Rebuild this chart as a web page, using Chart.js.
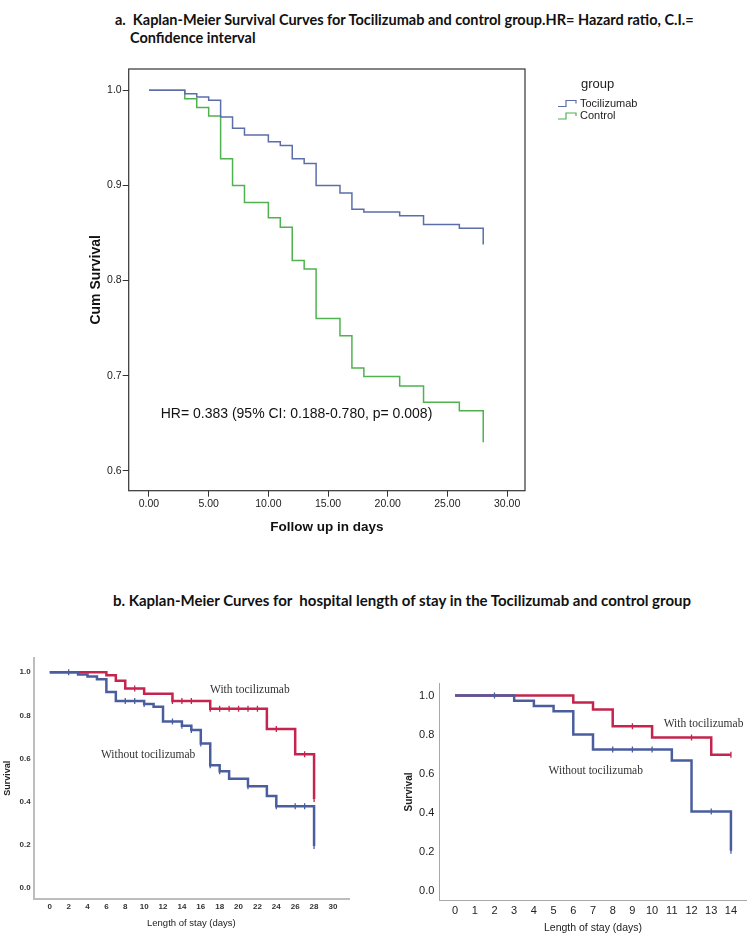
<!DOCTYPE html>
<html>
<head>
<meta charset="utf-8">
<script src="https://cdn.jsdelivr.net/npm/chart.js@4.4.0/dist/chart.umd.min.js"></script>
<style>
    body { margin: 0; background: #fff; }
    #page { position: relative; width: 752px; height: 938px; overflow: hidden; background: #fff; }
    .title { position: absolute; font-family: Lato, 'Open Sans', sans-serif; font-weight: bold; font-size: 14.5px; color: #111; white-space: nowrap; }
    .box { position: absolute; }
</style>
</head>
<body>
<div id="page">
    <div class="title" style="left:115px; top:11px;">a.&nbsp; Kaplan-Meier Survival Curves for Tocilizumab and control group.HR= Hazard ratio, C.I.=</div>
    <div class="title" style="left:130px; top:29px;">Confidence interval</div>
    <div class="title" style="left:113px; top:591px; font-size:15px;">b. Kaplan-Meier Curves for&nbsp; hospital length of stay in the Tocilizumab and control group</div>

    <div class="box" style="left:0; top:60px;"><canvas id="chart-a" width="752" height="480"></canvas></div>
    <div class="box" style="left:0; top:640px;"><canvas id="chart-b" width="380" height="298"></canvas></div>
    <div class="box" style="left:380px; top:660px;"><canvas id="chart-c" width="372" height="278"></canvas></div>
</div>

<script>
// a. survival, follow up in days
const topXTicks = [0, 5, 10, 15, 20, 25, 30]
const topYTicks = [0.6, 0.7, 0.8, 0.9, 1.0]
const topTociDays = [0, 3, 4, 5, 6, 7, 8, 10, 11, 12, 13, 14, 16, 17, 18, 21, 23, 26, 28]
const topTociSurv = [1.0, 0.9965, 0.993, 0.9895, 0.972, 0.960, 0.953, 0.946, 0.942, 0.928, 0.923, 0.900, 0.892, 0.875, 0.872, 0.868, 0.859, 0.855, 0.838]
const topCtrlDays = [0, 3, 4, 5, 6, 7, 8, 10, 11, 12, 13, 14, 16, 17, 18, 21, 23, 26, 28]
const topCtrlSurv = [1.0, 0.991, 0.982, 0.973, 0.928, 0.900, 0.882, 0.866, 0.856, 0.821, 0.812, 0.760, 0.742, 0.708, 0.699, 0.689, 0.672, 0.663, 0.630]

// b. left, length of stay 0-28
const leftXTicks = [0, 2, 4, 6, 8, 10, 12, 14, 16, 18, 20, 22, 24, 26, 28, 30]
const survTicks = [0, 0.2, 0.4, 0.6, 0.8, 1.0]
const leftWithoutDays = [0, 3, 4, 5, 6, 7, 10, 11, 12, 14, 15, 16, 17, 18, 19, 21, 23, 24, 28]
const leftWithoutSurv = [1.0, 0.990, 0.980, 0.967, 0.908, 0.867, 0.853, 0.840, 0.771, 0.752, 0.732, 0.669, 0.568, 0.540, 0.506, 0.471, 0.426, 0.378, 0.194]
const leftWithoutCensorDays = [2, 8, 9, 10, 13, 14, 15, 16, 17, 18, 21, 24, 26, 27, 28]
const leftWithoutCensorSurv = [1.0, 0.867, 0.867, 0.853, 0.771, 0.752, 0.732, 0.669, 0.568, 0.540, 0.471, 0.378, 0.378, 0.378, 0.194]
const leftWithDays = [0, 6, 7, 8, 10, 13, 17, 23, 26, 28]
const leftWithSurv = [1.0, 0.986, 0.960, 0.925, 0.900, 0.867, 0.830, 0.737, 0.619, 0.412]
const leftWithCensorDays = [9, 13, 14, 15, 17, 18, 19, 20, 21, 22, 24, 27, 28]
const leftWithCensorSurv = [0.925, 0.867, 0.867, 0.867, 0.830, 0.830, 0.830, 0.830, 0.830, 0.830, 0.737, 0.619, 0.412]

// b. right, length of stay 0-14
const rightXTicks = [0, 1, 2, 3, 4, 5, 6, 7, 8, 9, 10, 11, 12, 13, 14]
const rightWithoutDays = [0, 3, 4, 5, 6, 7, 11, 12, 14]
const rightWithoutSurv = [1.0, 0.973, 0.947, 0.919, 0.801, 0.724, 0.668, 0.406, 0.206]
const rightWithoutCensorDays = [2, 8, 9, 10, 13, 14]
const rightWithoutCensorSurv = [1.0, 0.724, 0.724, 0.724, 0.406, 0.206]
const rightWithDays = [0, 6, 7, 8, 10, 13, 14]
const rightWithSurv = [1.0, 0.964, 0.928, 0.843, 0.785, 0.697, 0.697]
const rightWithCensorDays = [9, 12, 14]
const rightWithCensorSurv = [0.843, 0.785, 0.697]

const SANS = "'Liberation Sans', Arial, sans-serif"
const SERIF = "'Liberation Serif', 'Times New Roman', serif"
const BLUE = '#4a5e9e'
const RED = '#c4244e'

function points(xs, ys) {
    return xs.map((x, i) => ({ x: x, y: ys[i] }))
}

// survival curve: stays flat until the next day, then drops
function stepLine(xs, ys, color, width) {
    return {
        data: points(xs, ys),
        stepped: 'before',
        borderColor: color,
        borderWidth: width,
        pointRadius: 0,
        fill: false
    }
}

function censorMarks(xs, ys, color) {
    return {
        data: points(xs, ys),
        showLine: false,
        pointStyle: 'line',
        rotation: 90,
        pointRadius: 3,
        pointBorderColor: color,
        pointBorderWidth: 1.3,
        pointBackgroundColor: color
    }
}

// text written at data positions
const notesPlugin = {
    id: 'notes',
    afterDatasetsDraw(chart, args, opts) {
        const ctx = chart.ctx
        ;(opts.items || []).forEach(n => {
            ctx.save()
            ctx.font = n.font
            ctx.fillStyle = n.color || '#222'
            ctx.textAlign = n.align || 'center'
            ctx.textBaseline = 'middle'
            ctx.fillText(n.text, chart.scales.x.getPixelForValue(n.x), chart.scales.y.getPixelForValue(n.y))
            ctx.restore()
        })
    }
}

// box round the plot (SPSS style)
const framePlugin = {
    id: 'frame',
    afterDraw(chart) {
        const a = chart.chartArea
        const ctx = chart.ctx
        ctx.save()
        ctx.strokeStyle = '#333'
        ctx.lineWidth = 1.2
        ctx.strokeRect(a.left, a.top, a.right - a.left, a.bottom - a.top)
        ctx.restore()
    }
}

// "group" legend with step shaped keys
const groupLegendPlugin = {
    id: 'groupLegend',
    afterDraw(chart) {
        const ctx = chart.ctx
        ctx.save()
        ctx.fillStyle = '#222'
        ctx.textBaseline = 'middle'
        ctx.font = '13px ' + SANS
        ctx.fillText('group', 581, 24)
        ctx.font = '11px ' + SANS
        chart.data.datasets.forEach((ds, i) => {
            const y = 43.5 + i * 12.5
            ctx.strokeStyle = ds.borderColor
            ctx.lineWidth = 1.2
            ctx.beginPath()
            ctx.moveTo(558, y + 3)
            ctx.lineTo(566, y + 3)
            ctx.lineTo(566, y - 3)
            ctx.lineTo(576, y - 3)
            ctx.lineTo(576, y)
            ctx.stroke()
            ctx.fillText(ds.label, 580, y)
        })
        ctx.restore()
    }
}

function fixedTicks(list) {
    return s => { s.ticks = list.map(v => ({ value: v })) }
}

document.addEventListener('DOMContentLoaded', function () {
    Chart.defaults.font.family = SANS
    Chart.defaults.color = '#222'

    const ctxA = document.getElementById('chart-a').getContext('2d')
    const chartA = new Chart(ctxA, {
        type: 'line',
        data: {
            datasets: [
                Object.assign({ label: 'Tocilizumab' }, stepLine(topTociDays, topTociSurv, '#5b6ea9', 1.5)),
                Object.assign({ label: 'Control' }, stepLine(topCtrlDays, topCtrlSurv, '#4fb24f', 1.5))
            ]
        },
        options: {
            responsive: false,
            animation: false,
            layout: { padding: { left: 0, top: 9, right: 227, bottom: 0 } },
            plugins: {
                legend: { display: false },
                tooltip: { enabled: false },
                notes: {
                    items: [
                        { text: 'HR= 0.383 (95% CI: 0.188-0.780, p= 0.008)', x: 0.98, y: 0.6597, align: 'left', font: '14px ' + SANS, color: '#111' }
                    ]
                }
            },
            scales: {
                x: {
                    type: 'linear',
                    min: -1.7,
                    max: 31.5,
                    afterBuildTicks: fixedTicks(topXTicks),
                    afterFit: s => { s.height = 49.3 },
                    grid: { display: true, drawOnChartArea: false, drawTicks: true, tickLength: 6, color: '#333' },
                    border: { display: false },
                    ticks: { padding: 1, font: { size: 10.5 }, callback: v => v.toFixed(2) },
                    title: { display: true, text: 'Follow up in days', font: { size: 13.5, weight: 'bold' }, color: '#111', padding: { top: 0, bottom: 4.3 } }
                },
                y: {
                    type: 'linear',
                    min: 0.579,
                    max: 1.0224,
                    afterBuildTicks: fixedTicks(topYTicks),
                    afterFit: s => { s.width = 128.7 },
                    grid: { display: true, drawOnChartArea: false, drawTicks: true, tickLength: 6, color: '#333' },
                    border: { display: false },
                    ticks: { padding: 1, font: { size: 10.5 }, callback: v => v.toFixed(1) },
                    title: { display: true, text: 'Cum Survival', font: { size: 14, weight: 'bold' }, color: '#111', padding: { top: 88, bottom: 0 } }
                }
            }
        },
        plugins: [notesPlugin, framePlugin, groupLegendPlugin]
    })

    const ctxB = document.getElementById('chart-b').getContext('2d')
    const chartB = new Chart(ctxB, {
        type: 'line',
        data: {
            datasets: [
                stepLine(leftWithoutDays, leftWithoutSurv, BLUE, 2.5),
                censorMarks(leftWithoutCensorDays, leftWithoutCensorSurv, BLUE),
                stepLine(leftWithDays, leftWithSurv, RED, 2.5),
                censorMarks(leftWithCensorDays, leftWithCensorSurv, RED)
            ]
        },
        options: {
            responsive: false,
            animation: false,
            layout: { padding: { left: 0, top: 18, right: 31, bottom: 0 } },
            plugins: {
                legend: { display: false },
                tooltip: { enabled: false },
                notes: {
                    items: [
                        { text: 'With tocilizumab', x: 21.2, y: 0.917, font: '11.5px ' + SERIF, color: '#333' },
                        { text: 'Without tocilizumab', x: 10.42, y: 0.616, font: '11.5px ' + SERIF, color: '#333' }
                    ]
                }
            },
            scales: {
                x: {
                    type: 'linear',
                    min: -1.7,
                    max: 31.7,
                    afterBuildTicks: fixedTicks(leftXTicks),
                    afterFit: s => { s.height = 39.3 },
                    grid: { display: false, drawTicks: false },
                    border: { display: true, color: '#bdbdbd', width: 2 },
                    ticks: { padding: 2.8, font: { size: 8, weight: 'bold' }, color: '#333', callback: v => String(v) },
                    title: { display: true, text: 'Length of stay (days)', font: { size: 9.5 }, color: '#222', padding: { top: 0, bottom: 8.7 } }
                },
                y: {
                    type: 'linear',
                    min: -0.051,
                    max: 1.066,
                    afterBuildTicks: fixedTicks(survTicks),
                    afterFit: s => { s.width = 33.7 },
                    grid: { display: false, drawTicks: false },
                    border: { display: true, color: '#bdbdbd', width: 2 },
                    ticks: { padding: 3, font: { size: 8, weight: 'bold' }, color: '#333', callback: v => v.toFixed(1) },
                    title: { display: true, text: 'Survival', font: { size: 9, weight: 'bold' }, color: '#222', padding: { top: 2, bottom: 0 } }
                }
            }
        },
        plugins: [notesPlugin]
    })

    const ctxC = document.getElementById('chart-c').getContext('2d')
    const chartC = new Chart(ctxC, {
        type: 'line',
        data: {
            datasets: [
                stepLine(rightWithoutDays, rightWithoutSurv, BLUE, 2.5),
                censorMarks(rightWithoutCensorDays, rightWithoutCensorSurv, BLUE),
                stepLine(rightWithDays, rightWithSurv, RED, 2.5),
                censorMarks(rightWithCensorDays, rightWithCensorSurv, RED)
            ]
        },
        options: {
            responsive: false,
            animation: false,
            layout: { padding: { left: 0, top: 23.6, right: 0, bottom: 0 } },
            plugins: {
                legend: { display: false },
                tooltip: { enabled: false },
                notes: {
                    items: [
                        { text: 'With tocilizumab', x: 12.61, y: 0.854, font: '11.5px ' + SERIF, color: '#333' },
                        { text: 'Without tocilizumab', x: 7.14, y: 0.615, font: '11.5px ' + SERIF, color: '#333' }
                    ]
                }
            },
            scales: {
                x: {
                    type: 'linear',
                    min: -0.8,
                    max: 14.8,
                    afterBuildTicks: fixedTicks(rightXTicks),
                    afterFit: s => { s.height = 37.7 },
                    grid: { display: false, drawTicks: false },
                    border: { display: true, color: '#a8a8a8', width: 1 },
                    ticks: { padding: 3.8, font: { size: 11 }, color: '#222', callback: v => String(v) },
                    title: { display: true, text: 'Length of stay (days)', font: { size: 10.5 }, color: '#222', padding: { top: 0, bottom: 3.4 } }
                },
                y: {
                    type: 'linear',
                    min: -0.048,
                    max: 1.061,
                    afterBuildTicks: fixedTicks(survTicks),
                    afterFit: s => { s.width = 59.3 },
                    grid: { display: false, drawTicks: false },
                    border: { display: true, color: '#a8a8a8', width: 1 },
                    ticks: { padding: 5, font: { size: 11 }, color: '#222', callback: v => v.toFixed(1) },
                    title: { display: true, text: 'Survival', font: { size: 10, weight: 'bold' }, color: '#222', padding: { top: 23, bottom: 0 } }
                }
            }
        },
        plugins: [notesPlugin]
    })
})
</script>
</body>
</html>
